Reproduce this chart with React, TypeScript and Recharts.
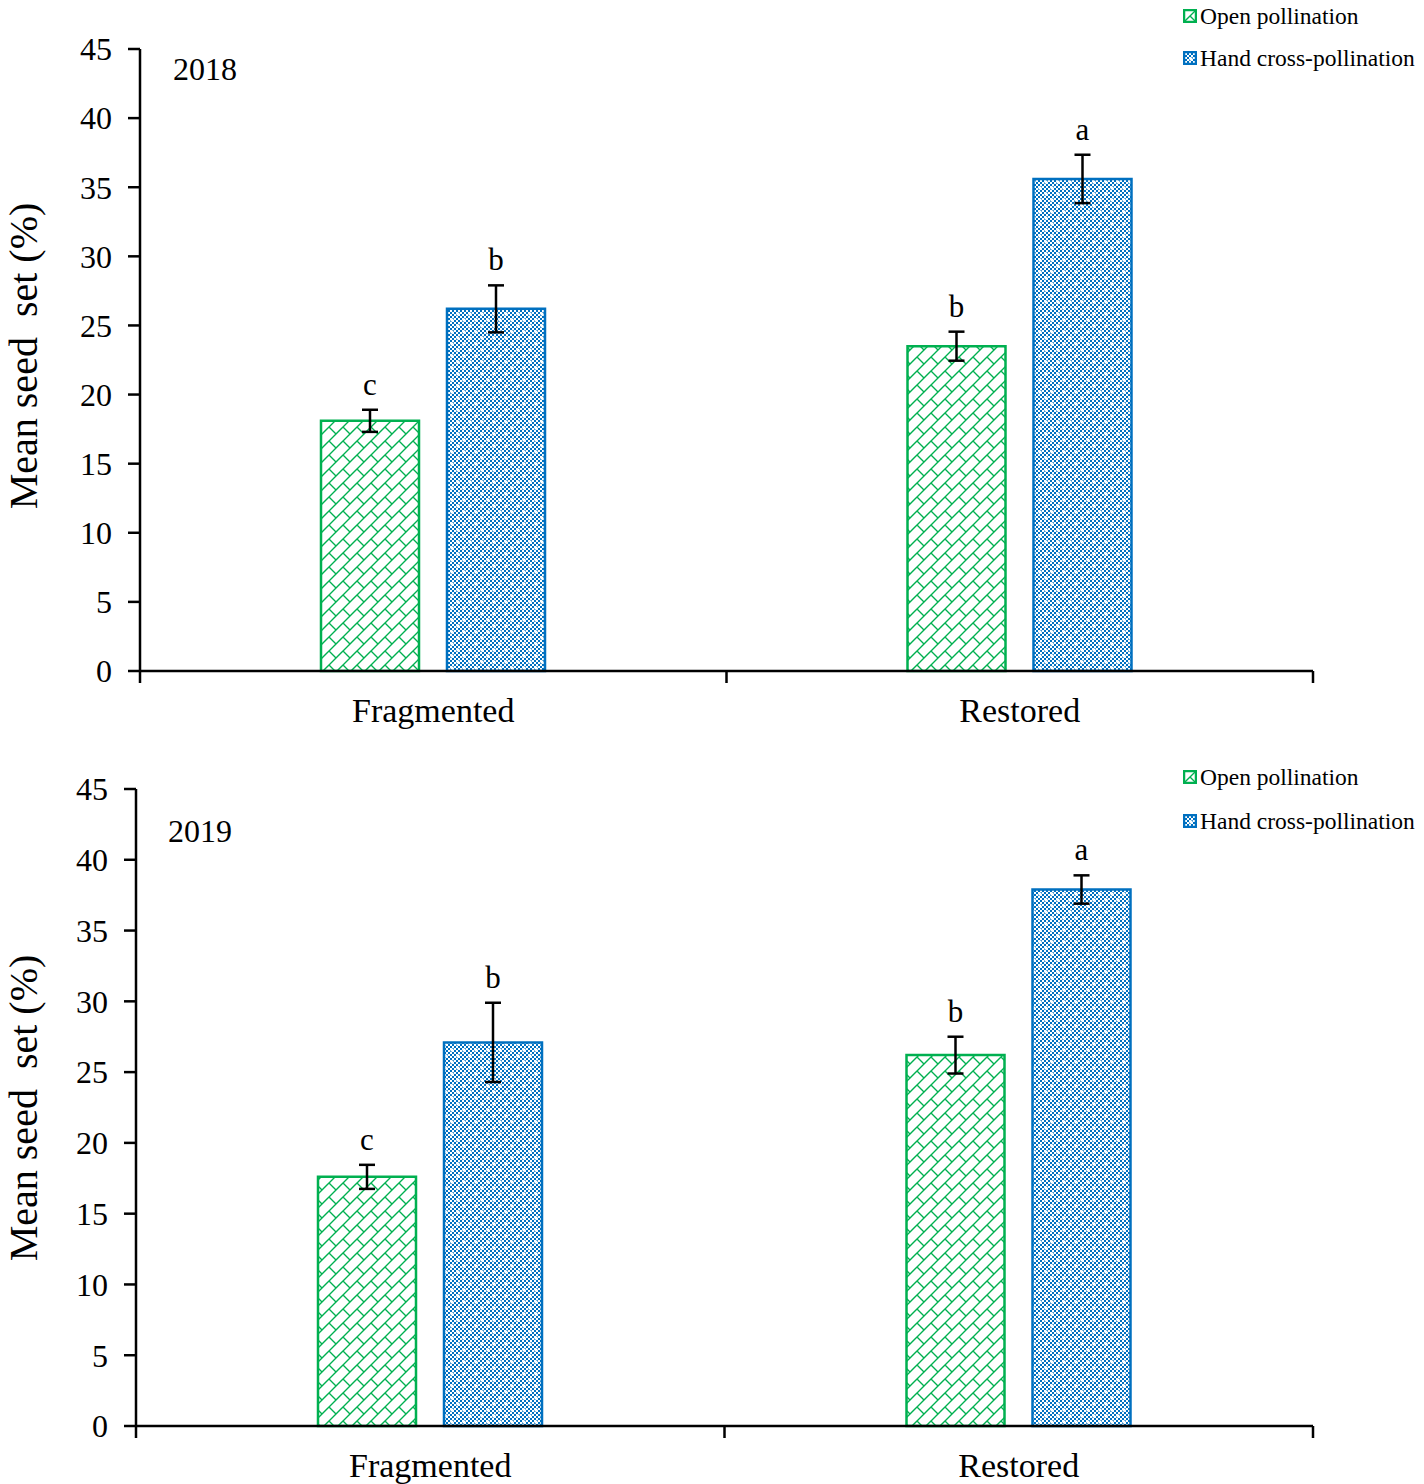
import React from 'react';
import { BarChart, Bar, XAxis, YAxis, ErrorBar, LabelList, Legend } from 'recharts';

const categories = ['Fragmented', 'Restored'];

// 2018
const open2018 = [18.1, 23.5];
const openErr2018 = [0.8, 1.05];
const hand2018 = [26.2, 35.6];
const handErr2018 = [1.7, 1.75];

// 2019
const open2019 = [17.6, 26.2];
const openErr2019 = [0.85, 1.3];
const hand2019 = [27.1, 37.9];
const handErr2019 = [2.8, 1.0];

const openLetters = ['c', 'b'];
const handLetters = ['b', 'a'];

const seriesOrder = ['open', 'hand'];

const yTicks = [0, 5, 10, 15, 20, 25, 30, 35, 40, 45];

const GREEN = '#00B050';
const BLUE = '#0070C0';
const FONT = '"Liberation Serif", "Times New Roman", serif';
const W = 1424;
const H = 742;
const PLOT_RIGHT = 1313;

type Row = {
    name: string;
    open: number;
    openErr: number;
    hand: number;
    handErr: number;
    openLetter: string;
    handLetter: string;
};

const buildRows = (open: number[], openErr: number[], hand: number[], handErr: number[]): Row[] =>
    categories.map((name, i) => ({
        name,
        open: open[i],
        openErr: openErr[i],
        hand: hand[i],
        handErr: handErr[i],
        openLetter: openLetters[i],
        handLetter: handLetters[i],
    }));

const rows2018 = buildRows(open2018, openErr2018, hand2018, handErr2018);
const rows2019 = buildRows(open2019, openErr2019, hand2019, handErr2019);

// letter drawn above the top of the error bar
const letterLabel = (rows: Row[], valueKey: 'open' | 'hand', errKey: 'openErr' | 'handErr') => (props: any) => {
    const { x, y, width, height, index, value } = props;
    const row = rows[index];
    const pxPerUnit = Number(height) / row[valueKey];
    const top = Number(y) - row[errKey] * pxPerUnit;
    return (
        <text x={Number(x) + Number(width) / 2} y={top - 15} textAnchor="middle" fontSize={31} fontFamily={FONT} fill="#000">
            {value}
        </text>
    );
};

const CategoryTick = (props: any) => {
    const { x, y, payload, index, halfBand } = props;
    return (
        <g>
            <line x1={x - halfBand} x2={x - halfBand} y1={y} y2={y + 12} stroke="#000" strokeWidth={2.5} />
            {index === categories.length - 1 && (
                <line x1={x + halfBand} x2={x + halfBand} y1={y} y2={y + 12} stroke="#000" strokeWidth={2.5} />
            )}
            <text x={x} y={y + 51} textAnchor="middle" fontSize={34} fontFamily={FONT} fill="#000">
                {payload.value}
            </text>
        </g>
    );
};

type Layout = {
    axisX: number;
    plotTop: number;
    plotBottom: number;
    legendTop: number;
    legendGap: number;
    yearX: number;
    yearY: number;
    titleY: number;
};

function SeedChart({ id, year, rows, layout }: { id: string; year: string; rows: Row[]; layout: Layout }) {
    const halfBand = (PLOT_RIGHT - layout.axisX) / (categories.length * 2);
    const greenFill = `url(#green-${id})`;
    const blueFill = `url(#blue-${id})`;

    const renderLegend = (p: any) => {
        const payload = [...(p.payload || [])].sort(
            (a: any, b: any) => seriesOrder.indexOf(a.dataKey) - seriesOrder.indexOf(b.dataKey)
        );
        return (
            <div style={{ fontFamily: FONT, fontSize: 23.5, color: '#000' }}>
                {payload.map((item: any) => {
                    const isOpen = item.dataKey === 'open';
                    return (
                        <div key={item.dataKey} style={{ height: layout.legendGap, display: 'flex', alignItems: 'center' }}>
                            <svg width={14} height={14}>
                                <rect x={1} y={1} width={12} height={12} fill={isOpen ? greenFill : blueFill}
                                    stroke={isOpen ? GREEN : BLUE} strokeWidth={2.5} />
                            </svg>
                            <span style={{ marginLeft: 3, whiteSpace: 'nowrap' }}>{item.value}</span>
                        </div>
                    );
                })}
            </div>
        );
    };

    return (
        <BarChart
            width={W}
            height={H}
            data={rows}
            barGap={28}
            margin={{ top: layout.plotTop, right: W - PLOT_RIGHT, left: 0, bottom: H - layout.plotBottom - 50 }}
        >
            <defs>
                <pattern id={`green-${id}`} width={14} height={14} patternUnits="userSpaceOnUse">
                    <rect width={14} height={14} fill="#fff" />
                    <path d="M0,14 L14,0 M-2,2 L2,-2 M12,16 L16,12 M7,7 L14,14" stroke={GREEN} strokeWidth={1.4} />
                </pattern>
                <pattern id={`chk-${id}`} width={4} height={4} patternUnits="userSpaceOnUse">
                    <rect width={4} height={4} fill={BLUE} />
                    <rect width={2} height={2} fill="#fff" />
                    <rect x={2} y={2} width={2} height={2} fill="#fff" />
                </pattern>
                <pattern id={`blue-${id}`} width={12} height={12} patternUnits="userSpaceOnUse">
                    <rect width={12} height={12} fill={`url(#chk-${id})`} />
                    <rect x={0.5} y={0.5} width={3} height={3} fill="#fff" />
                    <rect x={6.5} y={6.5} width={3} height={3} fill="#fff" />
                </pattern>
            </defs>
            <XAxis
                dataKey="name"
                height={50}
                tickSize={0}
                tickMargin={0}
                tickLine={false}
                axisLine={{ stroke: '#000', strokeWidth: 2.5 }}
                tick={<CategoryTick halfBand={halfBand} />}
                interval={0}
            />
            <YAxis
                width={layout.axisX}
                domain={[0, 45]}
                ticks={yTicks}
                interval={0}
                tickSize={12}
                tickMargin={16}
                axisLine={{ stroke: '#000', strokeWidth: 2.5 }}
                tickLine={{ stroke: '#000', strokeWidth: 2.5 }}
                tick={{ fill: '#000', fontSize: 32, fontFamily: FONT }}
            />
            <Legend
                layout="vertical"
                align="center"
                verticalAlign="middle"
                wrapperStyle={{ position: 'absolute', top: layout.legendTop, left: 1183, width: 241, height: 'auto' }}
                content={renderLegend}
            />
            <Bar dataKey="open" name="Open pollination" fill={greenFill} stroke={GREEN} strokeWidth={2.5}
                barSize={98} isAnimationActive={false}>
                <ErrorBar dataKey="openErr" direction="y" width={8} stroke="#000" strokeWidth={2.5} />
                <LabelList dataKey="openLetter" content={letterLabel(rows, 'open', 'openErr')} />
            </Bar>
            <Bar dataKey="hand" name="Hand cross-pollination" fill={blueFill} stroke={BLUE} strokeWidth={2.5}
                barSize={98} isAnimationActive={false}>
                <ErrorBar dataKey="handErr" direction="y" width={8} stroke="#000" strokeWidth={2.5} />
                <LabelList dataKey="handLetter" content={letterLabel(rows, 'hand', 'handErr')} />
            </Bar>
            <text x={layout.yearX} y={layout.yearY} fontSize={32} fontFamily={FONT} fill="#000">{year}</text>
            <text
                x={37}
                y={layout.titleY}
                transform={`rotate(-90, 37, ${layout.titleY})`}
                textAnchor="middle"
                fontSize={40}
                fontFamily={FONT}
                fill="#000"
                style={{ whiteSpace: 'pre' }}
            >
                Mean seed  set (%)
            </text>
        </BarChart>
    );
}

export default function App() {
    return (
        <div style={{ position: 'absolute', top: 0, left: 0, width: W, height: 1484, background: '#fff', fontFamily: FONT }}>
            <div style={{ position: 'absolute', top: 0, left: 0 }}>
                <SeedChart
                    id="a"
                    year="2018"
                    rows={rows2018}
                    layout={{ axisX: 140, plotTop: 49, plotBottom: 671, legendTop: -5, legendGap: 42, yearX: 173, yearY: 80, titleY: 356 }}
                />
            </div>
            <div style={{ position: 'absolute', top: H, left: 0 }}>
                <SeedChart
                    id="b"
                    year="2019"
                    rows={rows2019}
                    layout={{ axisX: 136, plotTop: 47, plotBottom: 684, legendTop: 13, legendGap: 44, yearX: 168, yearY: 100, titleY: 366 }}
                />
            </div>
        </div>
    );
}
